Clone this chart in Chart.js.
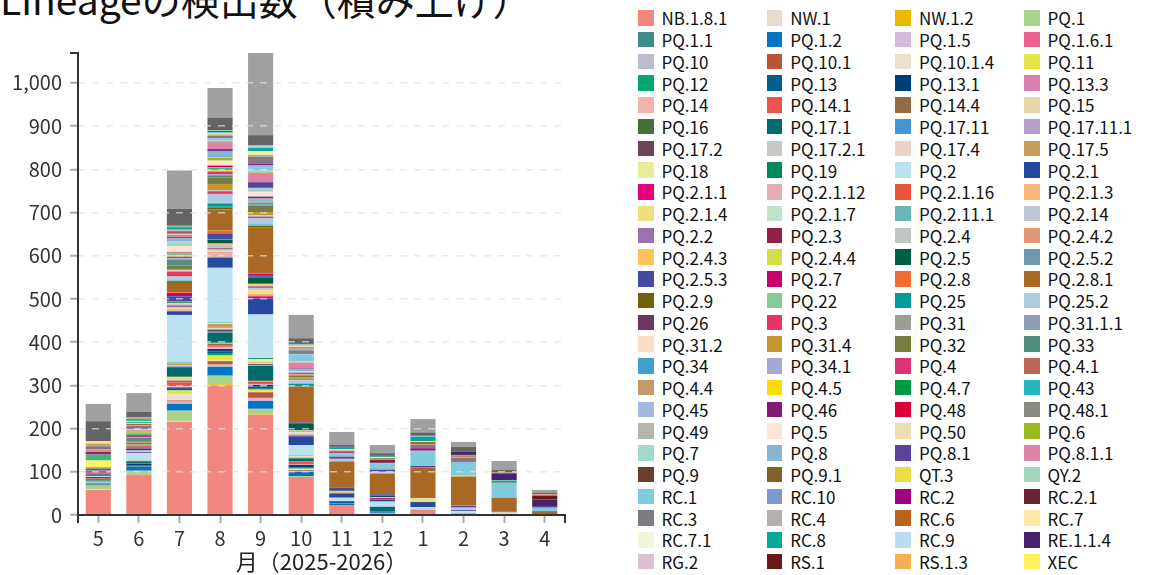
<!DOCTYPE html>
<html lang="ja">
<head>
<meta charset="utf-8">
<title>Lineageの検出数（積み上げ）</title>
<script src="https://cdn.jsdelivr.net/npm/chart.js@4.4.1/dist/chart.umd.min.js"></script>
<style>
  html, body { margin: 0; padding: 0; width: 1157px; height: 575px; overflow: hidden; background: #fff; font-family: 'Noto Sans CJK JP', sans-serif; }
  #title { position: absolute; left: 0; top: -21px; font-size: 39px; line-height: 1; color: #111; white-space: nowrap; }
  #box { position: absolute; left: 0; top: 0; width: 590px; height: 575px; }
  #legend { position: absolute; left: 638px; top: 10px; display: grid; grid-template-columns: repeat(4, 128.7px); grid-auto-rows: 21.76px; }
  .item { display: flex; align-items: center; height: 15.5px; font-size: 17px; color: #111; white-space: nowrap; }
  .sw { width: 15.5px; height: 15.5px; margin-right: 8px; flex: none; }
</style>
</head>
<body>
<div id="title">Lineageの検出数（積み上げ）</div>
<div id="box"><canvas id="myChart"></canvas></div>
<div id="legend"></div>
<script>
var months = ["5", "6", "7", "8", "9", "10", "11", "12", "1", "2", "3", "4"];
var xTitle = "月（2025-2026）";

var lineages = ["NB.1.8.1", "NW.1", "NW.1.2", "PQ.1", "PQ.1.1", "PQ.1.2", "PQ.1.5", "PQ.1.6.1",
  "PQ.10", "PQ.10.1", "PQ.10.1.4", "PQ.11", "PQ.12", "PQ.13", "PQ.13.1", "PQ.13.3",
  "PQ.14", "PQ.14.1", "PQ.14.4", "PQ.15", "PQ.16", "PQ.17.1", "PQ.17.11", "PQ.17.11.1",
  "PQ.17.2", "PQ.17.2.1", "PQ.17.4", "PQ.17.5", "PQ.18", "PQ.19", "PQ.2", "PQ.2.1",
  "PQ.2.1.1", "PQ.2.1.12", "PQ.2.1.16", "PQ.2.1.3", "PQ.2.1.4", "PQ.2.1.7", "PQ.2.11.1", "PQ.2.14",
  "PQ.2.2", "PQ.2.3", "PQ.2.4", "PQ.2.4.2", "PQ.2.4.3", "PQ.2.4.4", "PQ.2.5", "PQ.2.5.2",
  "PQ.2.5.3", "PQ.2.7", "PQ.2.8", "PQ.2.8.1", "PQ.2.9", "PQ.22", "PQ.25", "PQ.25.2",
  "PQ.26", "PQ.3", "PQ.31", "PQ.31.1.1", "PQ.31.2", "PQ.31.4", "PQ.32", "PQ.33",
  "PQ.34", "PQ.34.1", "PQ.4", "PQ.4.1", "PQ.4.4", "PQ.4.5", "PQ.4.7", "PQ.43",
  "PQ.45", "PQ.46", "PQ.48", "PQ.48.1", "PQ.49", "PQ.5", "PQ.50", "PQ.6",
  "PQ.7", "PQ.8", "PQ.8.1", "PQ.8.1.1", "PQ.9", "PQ.9.1", "QT.3", "QY.2",
  "RC.1", "RC.10", "RC.2", "RC.2.1", "RC.3", "RC.4", "RC.6", "RC.7",
  "RC.7.1", "RC.8", "RC.9", "RE.1.1.4", "RG.2", "RS.1", "RS.1.3", "XEC",
  "XFC", "XFG", "XFG.3", "XFJ", "XFV", "XFW", "組換え体", "その他"];

var colors = ["#f1877e", "#e9dacb", "#e9b900", "#a7d38d", "#3f8b86", "#0075c2", "#d3b9da", "#ea608e",
  "#bcbbd2", "#bc5535", "#eae1cd", "#e5e546", "#00a96b", "#005f8f", "#003e7a", "#dc7fb0",
  "#f5b1ad", "#eb5550", "#936c46", "#e5d8a5", "#427036", "#006b6c", "#4496d2", "#b69fcb",
  "#6c4656", "#c8c9c2", "#e7d4cc", "#c49d5b", "#e9eb96", "#00895a", "#bbe2f1", "#27499d",
  "#e6007e", "#e4aeb1", "#ea553a", "#f5b77a", "#eedf7f", "#c1e3c7", "#69b6b6", "#bcc8d7",
  "#9b72b0", "#941f45", "#c0c5c1", "#e49679", "#fbc55a", "#d2df48", "#005e45", "#7099ad",
  "#434aa0", "#c9006b", "#ee6d36", "#a96924", "#6f620a", "#89c997", "#009b9b", "#b0cae3",
  "#6c365f", "#e83562", "#9e9e96", "#8da0b6", "#fcdbc9", "#c6952e", "#757e40", "#528f7f",
  "#3f9fce", "#a4a9d4", "#da3379", "#bb6659", "#c49a6b", "#ffdc00", "#009a44", "#23b6bf",
  "#a3b9e0", "#861877", "#da0037", "#8a8a81", "#b5b5ab", "#fde4d9", "#efdcb0", "#9cba1e",
  "#a4d8cc", "#89b4d4", "#5c4298", "#df83a6", "#6b3d31", "#826027", "#eddc43", "#a4d6bd",
  "#80cbdd", "#7b9bcf", "#a3007f", "#692536", "#7c7b86", "#b5aeab", "#bd611f", "#fee8a6",
  "#f0f6dc", "#00a998", "#badcf1", "#46236c", "#dfbfcf", "#6c1916", "#f6ae55", "#fff35b",
  "#3cb878", "#a2186e", "#e48a8a", "#7a7a7a", "#c8a070", "#f7e08a", "#646464", "#a0a0a0"];

// one row per lineage, one value per month (5..12, 1..4)
var counts = [
  [58, 93, 216, 300, 232, 88, 22, 4, 10, 4, 2, 0],   // NB.1.8.1
  [1, 0, 1, 1, 0, 0, 0, 0, 0, 0, 0, 0],
  [0, 0, 1, 2, 1, 0, 0, 0, 0, 0, 0, 0],
  [9, 9, 23, 19, 12, 2, 0, 0, 0, 0, 0, 0],           // PQ.1
  [3, 1, 1, 1, 1, 0, 0, 0, 0, 0, 0, 0],
  [2, 9, 15, 20, 18, 10, 4, 2, 0, 0, 0, 0],          // PQ.1.2
  [0, 0, 3, 3, 5, 1, 0, 0, 0, 0, 0, 0],
  [1, 0, 2, 1, 1, 0, 0, 0, 0, 0, 0, 0],
  [2, 0, 1, 1, 1, 1, 0, 0, 0, 0, 0, 0],              // PQ.10
  [0, 1, 2, 8, 13, 2, 1, 0, 2, 0, 0, 0],
  [0, 0, 14, 1, 1, 1, 0, 0, 0, 0, 0, 0],
  [1, 0, 9, 12, 5, 2, 0, 0, 0, 0, 0, 0],
  [3, 0, 1, 4, 2, 1, 0, 0, 0, 0, 0, 0],              // PQ.12
  [2, 2, 3, 5, 5, 2, 1, 0, 0, 0, 0, 0],
  [1, 4, 3, 6, 4, 6, 2, 2, 0, 0, 0, 0],
  [0, 0, 1, 1, 1, 1, 0, 0, 0, 0, 0, 0],
  [0, 0, 2, 4, 1, 1, 0, 0, 0, 0, 0, 0],              // PQ.14
  [2, 1, 9, 4, 5, 5, 0, 1, 0, 0, 0, 0],
  [0, 0, 4, 3, 1, 1, 0, 0, 0, 0, 0, 0],
  [0, 0, 8, 1, 1, 0, 0, 0, 0, 0, 0, 0],
  [0, 0, 2, 2, 2, 1, 0, 0, 0, 0, 0, 0],              // PQ.16
  [3, 4, 21, 23, 33, 6, 2, 10, 0, 0, 0, 0],          // PQ.17.1
  [0, 0, 1, 1, 1, 1, 0, 0, 0, 0, 0, 0],
  [0, 0, 1, 1, 1, 0, 0, 0, 0, 0, 0, 0],
  [0, 1, 1, 5, 2, 0, 0, 0, 0, 0, 0, 0],              // PQ.17.2
  [0, 0, 1, 2, 1, 0, 0, 0, 0, 0, 0, 0],
  [0, 0, 1, 2, 1, 0, 0, 0, 0, 0, 0, 0],
  [0, 1, 4, 9, 2, 1, 0, 0, 0, 0, 0, 0],
  [0, 0, 1, 2, 8, 3, 0, 0, 0, 0, 0, 0],              // PQ.18
  [0, 0, 1, 1, 2, 1, 0, 0, 0, 0, 0, 0],
  [2, 17, 110, 127, 101, 25, 8, 12, 6, 5, 2, 0],     // PQ.2
  [0, 2, 8, 23, 37, 20, 10, 5, 12, 2, 0, 0],         // PQ.2.1
  [2, 1, 1, 1, 5, 2, 0, 3, 0, 0, 0, 0],              // PQ.2.1.1
  [0, 0, 1, 10, 1, 3, 0, 0, 0, 0, 0, 0],
  [0, 0, 1, 1, 1, 0, 0, 0, 0, 0, 0, 0],
  [0, 1, 3, 2, 4, 1, 3, 0, 1, 0, 0, 0],
  [0, 0, 1, 1, 8, 2, 0, 0, 7, 0, 0, 0],              // PQ.2.1.4
  [0, 1, 1, 2, 1, 1, 0, 0, 0, 0, 0, 0],
  [0, 0, 1, 1, 1, 0, 0, 0, 0, 0, 0, 0],
  [0, 0, 1, 1, 3, 1, 1, 1, 1, 4, 2, 0],
  [0, 1, 4, 1, 3, 1, 0, 0, 0, 1, 0, 0],              // PQ.2.2
  [0, 0, 1, 2, 1, 0, 0, 0, 0, 0, 0, 0],
  [0, 1, 1, 8, 1, 2, 0, 1, 0, 1, 0, 0],
  [0, 0, 1, 1, 1, 0, 0, 0, 0, 0, 1, 0],
  [0, 0, 2, 1, 3, 1, 1, 0, 0, 0, 0, 0],              // PQ.2.4.3
  [0, 0, 1, 1, 1, 0, 0, 0, 0, 0, 0, 0],
  [2, 3, 2, 9, 15, 15, 2, 4, 0, 1, 0, 0],            // PQ.2.5
  [0, 0, 1, 1, 1, 0, 0, 0, 0, 0, 0, 0],
  [0, 1, 12, 13, 4, 3, 6, 3, 2, 3, 1, 0],            // PQ.2.5.3
  [0, 2, 8, 1, 3, 1, 0, 0, 0, 0, 0, 0],
  [0, 0, 1, 6, 1, 0, 0, 0, 0, 1, 0, 0],
  [0, 3, 22, 49, 106, 82, 60, 48, 69, 67, 32, 9],    // PQ.2.8.1
  [0, 1, 4, 5, 4, 1, 1, 0, 0, 0, 0, 0],              // PQ.2.9
  [0, 0, 1, 1, 1, 0, 0, 0, 0, 0, 0, 0],
  [2, 1, 1, 8, 2, 6, 0, 0, 0, 0, 0, 0],
  [0, 2, 9, 21, 15, 8, 6, 3, 0, 0, 0, 0],            // PQ.25.2
  [0, 1, 1, 2, 2, 1, 2, 0, 0, 0, 0, 0],              // PQ.26
  [3, 3, 10, 5, 1, 1, 0, 2, 0, 0, 0, 0],
  [0, 0, 1, 1, 1, 0, 0, 0, 0, 0, 0, 0],
  [0, 0, 1, 1, 1, 1, 0, 0, 0, 0, 0, 0],
  [0, 0, 1, 1, 1, 0, 0, 0, 0, 0, 0, 0],              // PQ.31.2
  [0, 1, 3, 14, 8, 4, 0, 0, 0, 0, 0, 0],
  [0, 2, 8, 15, 15, 3, 0, 0, 0, 0, 0, 0],
  [3, 9, 14, 4, 1, 1, 0, 0, 0, 0, 0, 0],             // PQ.33
  [0, 0, 1, 2, 2, 1, 0, 0, 0, 0, 0, 0],              // PQ.34
  [0, 1, 2, 1, 1, 0, 0, 0, 0, 0, 0, 0],
  [1, 3, 3, 6, 2, 1, 0, 0, 0, 0, 0, 0],
  [0, 0, 1, 1, 1, 0, 0, 0, 0, 0, 0, 0],
  [0, 0, 1, 1, 1, 0, 0, 0, 0, 0, 0, 0],              // PQ.4.4
  [0, 0, 3, 2, 1, 1, 0, 0, 0, 0, 0, 0],
  [0, 3, 1, 1, 1, 2, 0, 0, 0, 0, 0, 0],
  [1, 3, 1, 4, 2, 1, 0, 0, 0, 0, 0, 0],
  [0, 0, 1, 1, 4, 1, 0, 0, 0, 0, 0, 0],              // PQ.45
  [0, 0, 1, 1, 1, 0, 0, 0, 0, 0, 0, 0],
  [0, 0, 1, 3, 3, 1, 0, 0, 0, 0, 0, 0],
  [0, 0, 1, 1, 1, 0, 0, 0, 0, 0, 0, 0],
  [0, 0, 1, 1, 1, 0, 0, 0, 0, 0, 0, 0],              // PQ.49
  [0, 1, 13, 9, 9, 1, 0, 0, 0, 0, 0, 0],
  [0, 0, 1, 1, 1, 0, 0, 0, 0, 0, 0, 0],
  [0, 2, 2, 6, 1, 0, 0, 0, 0, 0, 0, 0],
  [0, 1, 8, 1, 6, 1, 0, 0, 0, 0, 0, 0],              // PQ.7
  [0, 0, 7, 14, 2, 4, 0, 0, 0, 0, 0, 0],
  [0, 1, 3, 6, 13, 2, 3, 4, 4, 0, 0, 0],
  [0, 1, 3, 15, 20, 14, 0, 1, 0, 0, 0, 0],           // PQ.8.1.1
  [0, 0, 1, 1, 1, 0, 0, 0, 0, 0, 0, 0],              // PQ.9
  [0, 1, 1, 1, 1, 0, 0, 0, 0, 0, 0, 0],
  [0, 0, 1, 1, 1, 1, 0, 0, 1, 2, 0, 0],
  [0, 2, 1, 2, 4, 1, 0, 0, 0, 0, 0, 0],
  [0, 1, 1, 4, 11, 17, 8, 13, 33, 30, 33, 8],        // RC.1
  [0, 0, 0, 1, 1, 1, 0, 1, 1, 2, 0, 0],
  [2, 1, 3, 1, 3, 1, 2, 1, 5, 1, 1, 2],
  [0, 0, 0, 1, 1, 1, 1, 6, 1, 1, 0, 0],
  [2, 6, 3, 3, 16, 6, 2, 2, 7, 7, 0, 0],             // RC.3
  [0, 2, 1, 1, 1, 6, 0, 1, 1, 1, 0, 0],
  [0, 3, 1, 2, 2, 2, 1, 2, 6, 3, 1, 0],
  [0, 2, 1, 2, 9, 2, 3, 2, 1, 1, 0, 0],
  [0, 0, 0, 1, 1, 1, 0, 0, 1, 0, 0, 0],              // RC.7.1
  [2, 2, 6, 2, 8, 2, 4, 2, 10, 2, 5, 0],
  [0, 0, 0, 1, 3, 1, 0, 0, 1, 0, 1, 0],
  [0, 0, 0, 2, 1, 2, 2, 1, 2, 7, 15, 17],            // RE.1.1.4
  [1, 0, 1, 1, 1, 0, 0, 0, 0, 0, 0, 0],              // RG.2
  [0, 0, 0, 0, 0, 0, 0, 0, 0, 1, 1, 9],
  [0, 0, 0, 0, 0, 0, 0, 0, 1, 0, 1, 0],
  [15, 2, 0, 0, 0, 0, 0, 0, 0, 0, 0, 0],             // XEC
  [14, 3, 2, 1, 0, 0, 0, 0, 0, 0, 0, 0],
  [6, 1, 1, 0, 0, 0, 0, 0, 0, 0, 0, 0],
  [6, 0, 0, 0, 0, 0, 0, 0, 0, 0, 0, 3],
  [7, 2, 0, 0, 0, 0, 0, 0, 0, 0, 0, 0],
  [6, 3, 0, 0, 0, 0, 0, 0, 0, 0, 0, 0],
  [6, 0, 0, 0, 0, 0, 0, 0, 0, 0, 0, 0],
  [46, 13, 39, 29, 24, 12, 4, 6, 6, 11, 6, 4],       // dark gray
  [40, 43, 88, 69, 190, 54, 30, 19, 31, 11, 21, 6]   // light gray
];

var totals = months.map(function (m, j) {
  return counts.reduce(function (s, row) { return s + row[j]; }, 0);
});
var yMax = Math.max.apply(null, totals);

var datasets = lineages.map(function (name, i) {
  return {
    label: name,
    data: counts[i],
    backgroundColor: colors[i],
    borderWidth: 0,
    barPercentage: 0.62,
    categoryPercentage: 1
  };
});

// solid axis lines with end ticks, like a d3 domain path
var axisLines = {
  id: "axisLines",
  afterDraw: function (chart) {
    var ctx = chart.ctx, a = chart.chartArea;
    ctx.save();
    ctx.strokeStyle = "#333";
    ctx.lineWidth = 2;
    ctx.beginPath();
    ctx.moveTo(a.left - 8, a.top);
    ctx.lineTo(a.left, a.top);
    ctx.lineTo(a.left, a.bottom + 8);
    ctx.moveTo(a.left, a.bottom);
    ctx.lineTo(a.right, a.bottom);
    ctx.lineTo(a.right, a.bottom + 8);
    ctx.stroke();
    ctx.restore();
  }
};

Chart.defaults.font.family = "'Noto Sans CJK JP', sans-serif";

new Chart("myChart", {
  type: "bar",
  data: { labels: months, datasets: datasets },
  plugins: [axisLines],
  options: {
    responsive: true,
    maintainAspectRatio: false,
    animation: false,
    layout: { padding: { top: 53, right: 25, left: 0, bottom: 0 } },
    plugins: { legend: { display: false }, tooltip: { enabled: false } },
    scales: {
      x: {
        stacked: true,
        afterFit: function (s) { s.height = 60; },
        grid: { offset: false, drawOnChartArea: false, tickLength: 8, tickColor: "#aaa", tickWidth: 2 },
        border: { display: false },
        ticks: { color: "#333", padding: 3, font: { size: 20 } },
        title: { display: true, text: xTitle, color: "#222", padding: { top: 0, bottom: 0 }, font: { size: 22 } }
      },
      y: {
        stacked: true,
        min: 0,
        max: yMax,
        afterFit: function (s) { s.width = 78; },
        grid: { z: 1, color: "rgba(225,225,225,0.7)", lineWidth: 1.5, tickLength: 8, tickColor: "#aaa", tickWidth: 2 },
        border: { display: false, dash: [7, 7] },
        ticks: { stepSize: 100, includeBounds: false, color: "#333", padding: 8, font: { size: 20 } }
      }
    }
  }
});

// legend, four columns filled row by row
var legend = document.getElementById("legend");
lineages.forEach(function (name, i) {
  var item = document.createElement("div");
  item.className = "item";
  var sw = document.createElement("span");
  sw.className = "sw";
  sw.style.background = colors[i];
  item.appendChild(sw);
  item.appendChild(document.createTextNode(name));
  legend.appendChild(item);
});
</script>
</body>
</html>
